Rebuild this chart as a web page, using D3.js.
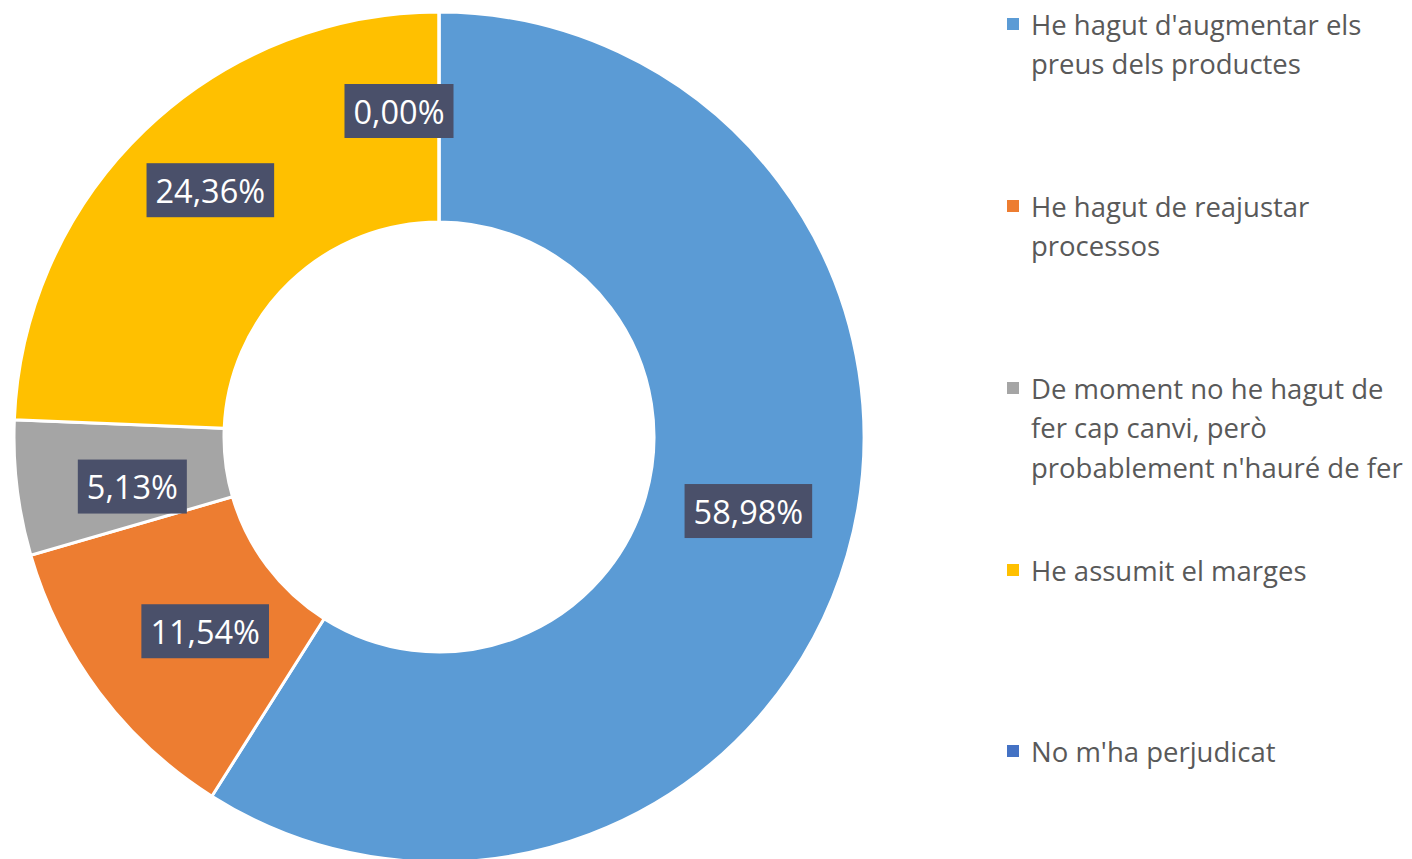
<!DOCTYPE html>
<html>
<head>
<meta charset="utf-8">
<script src="https://cdn.jsdelivr.net/npm/d3@7/dist/d3.min.js"></script>
<style>
  html, body { margin: 0; padding: 0; background: #ffffff; }
  svg { display: block; }
</style>
</head>
<body>
<svg id="chart" width="1412" height="859"></svg>
<script>
// ---- Data ----
const categories = [
  "He hagut d'augmentar els preus dels productes",
  "He hagut de reajustar processos",
  "De moment no he hagut de fer cap canvi, però probablement n'hauré de fer",
  "He assumit el marges",
  "No m'ha perjudicat"
];
const values = [58.98, 11.54, 5.13, 24.36, 0.00];
const valueLabels = ["58,98%", "11,54%", "5,13%", "24,36%", "0,00%"];
const legendLines = [
  ["He hagut d'augmentar els", "preus dels productes"],
  ["He hagut de reajustar", "processos"],
  ["De moment no he hagut de", "fer cap canvi, però", "probablement n'hauré de fer"],
  ["He assumit el marges"],
  ["No m'ha perjudicat"]
];
const colors = ["#5B9BD5", "#ED7D31", "#A5A5A5", "#FFC000", "#4472C4"];

// ---- Layout ----
const cx = 439, cy = 437, outerR = 425, innerR = 215;
const labelNudge = [[2, -15], [22, 2], [11, 11], [-7, -16], [-40, -6]];
const fontFamily = "'Open Sans', 'Noto Sans', sans-serif";

const svg = d3.select("#chart");
const g = svg.append("g").attr("transform", `translate(${cx},${cy})`);

const pie = d3.pie().value(d => d).sort(null).startAngle(0).endAngle(2 * Math.PI);
const arcs = pie(values);
const arc = d3.arc().innerRadius(innerR).outerRadius(outerR);

g.selectAll("path.slice")
  .data(arcs)
  .enter().append("path")
  .attr("class", "slice")
  .attr("d", arc)
  .attr("fill", (d, i) => colors[i])
  .attr("stroke", "#ffffff")
  .attr("stroke-width", 3)
  .attr("stroke-linejoin", "miter");

// ---- Data labels ----
const labels = g.selectAll("g.lbl")
  .data(arcs)
  .enter().append("g")
  .attr("class", "lbl")
  .attr("transform", (d, i) => {
    const c = arc.centroid(d);
    return `translate(${c[0] + labelNudge[i][0]},${c[1] + labelNudge[i][1]})`;
  });

labels.each(function(d, i) {
  const sel = d3.select(this);
  const rect = sel.append("rect").attr("fill", "#4A506A");
  const t = sel.append("text")
    .attr("text-anchor", "middle")
    .attr("dominant-baseline", "central")
    .attr("fill", "#ffffff")
    .style("font-family", fontFamily)
    .style("font-size", "32.5px")
    .text(valueLabels[i]);
  const w = t.node().getComputedTextLength();
  rect.attr("x", -w / 2 - 9).attr("y", -27).attr("width", w + 18).attr("height", 54);
});

// ---- Legend ----
const legendX = 1007, legendTextX = 1031;
const legendTop = [24, 206, 388, 570, 751];
const lineH = 39.5;
const legend = svg.append("g").attr("class", "legend");
legendLines.forEach((lines, i) => {
  const item = legend.append("g");
  item.append("rect")
    .attr("x", legendX)
    .attr("y", legendTop[i] - 6)
    .attr("width", 12)
    .attr("height", 12)
    .attr("fill", colors[i]);
  lines.forEach((ln, j) => {
    item.append("text")
      .attr("x", legendTextX)
      .attr("y", legendTop[i] + j * lineH)
      .attr("dominant-baseline", "central")
      .attr("fill", "#595959")
      .style("font-family", fontFamily)
      .style("font-size", "27.5px")
      .text(ln);
  });
});
</script>
</body>
</html>
